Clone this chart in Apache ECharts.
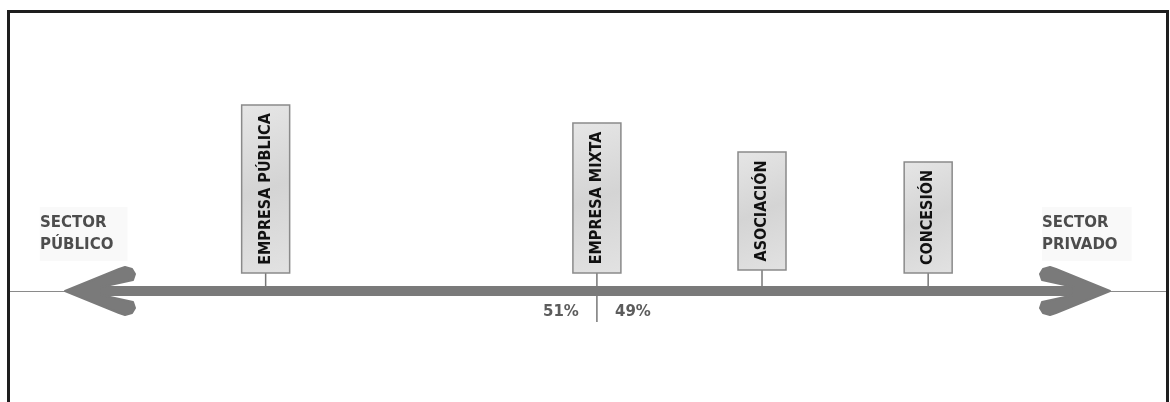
<!DOCTYPE html>
<html>
<head>
<meta charset="utf-8">
<script src="https://cdn.jsdelivr.net/npm/echarts@6/dist/echarts.min.js"></script>
<style>
  html, body { margin: 0; padding: 0; background: #fff; }
  #wrap { position: relative; width: 1170px; height: 402px; overflow: hidden; }
  #chart { width: 1170px; height: 402px; }
  #frame {
    position: absolute; left: 7px; top: 10px; width: 1156px; height: 400px;
    border: 3px solid #1e1e1e; border-bottom: none; pointer-events: none;
  }
</style>
</head>
<body>
<div id="wrap">
  <div id="chart"></div>
  <div id="frame"></div>
</div>
<script>
// spectrum: 0 = sector público, 100 = sector privado
const forms = ['EMPRESA PÚBLICA', 'EMPRESA MIXTA', 'ASOCIACIÓN', 'CONCESIÓN'];
const position = [19.2, 50.9, 66.7, 82.6];
const boxTop = [186, 168, 139, 129];
const boxBottom = [18, 18, 21, 18];
const ends = ['SECTOR\nPÚBLICO', 'SECTOR\nPRIVADO'];
const split = ['51%', '49%'];
const splitIndex = 1;   // EMPRESA MIXTA carries the 51/49 split
const splitDepth = -31;

const chart = echarts.init(document.getElementById('chart'));

const gray = '#7a7a7a';
const boxFont = '"Liberation Sans Narrow", "DejaVu Sans Condensed", "Arial Narrow", sans-serif';
const sideFont = '"DejaVu Sans", Verdana, sans-serif';

// arrow head outline, relative to the tip (dx points into the shaft)
const head = [[0, 0], [54, -22], [60, -24], [67, -22], [70, -17], [68, -11], [36, -4],
              [36, 4], [68, 11], [70, 17], [67, 22], [60, 24], [54, 22]];

function renderArrow(params, api) {
  const a = api.coord([api.value(0), 0]);
  const b = api.coord([api.value(1), 0]);
  const headPoly = (tip, dir) => ({
    type: 'polygon',
    shape: { points: head.map(p => [tip[0] + dir * p[0], tip[1] + p[1]]) },
    style: { fill: gray, stroke: gray, lineWidth: 2, lineJoin: 'round' }
  });
  return {
    type: 'group',
    children: [
      { type: 'line', shape: { x1: a[0] + 30, y1: a[1], x2: b[0] - 30, y2: b[1] },
        style: { stroke: gray, lineWidth: 10 } },
      headPoly(a, 1),
      headPoly(b, -1)
    ]
  };
}

function renderBox(params, api) {
  const x = api.value(0);
  const top = api.coord([x, api.value(1)]);
  const bot = api.coord([x, api.value(2)]);
  const base = api.coord([x, params.dataIndex === splitIndex ? splitDepth : 0]);
  const w = 48;
  return {
    type: 'group',
    children: [
      { type: 'line', shape: { x1: bot[0], y1: bot[1], x2: base[0], y2: base[1] },
        style: { stroke: '#777', lineWidth: 1.5 } },
      { type: 'rect', shape: { x: top[0] - w / 2, y: top[1], width: w, height: bot[1] - top[1] },
        style: {
          fill: new echarts.graphic.LinearGradient(0, 0, 1, 1, [
            { offset: 0, color: '#e6e6e6' }, { offset: 0.5, color: '#d4d4d4' }, { offset: 1, color: '#e2e2e2' }
          ]),
          stroke: '#8a8a8a', lineWidth: 1.5
        } },
      { type: 'text', x: top[0], y: (top[1] + bot[1]) / 2, rotation: Math.PI / 2,
        style: { text: forms[params.dataIndex], fill: '#111', fontSize: 16, fontWeight: 'bold',
                 fontFamily: boxFont, align: 'center', verticalAlign: 'middle' } }
    ]
  };
}

const option = {
  animation: false,
  grid: { left: 9, right: 4, top: 0, bottom: 0 },
  xAxis: {
    type: 'value', min: -5.36, max: 105.36,
    axisLine: { show: true, onZero: true, lineStyle: { color: '#8a8a8a', width: 1 } },
    axisTick: { show: false }, axisLabel: { show: false }, splitLine: { show: false }
  },
  yAxis: {
    type: 'value', min: -111, max: 291, show: false, splitLine: { show: false }
  },
  series: [
    {
      type: 'custom', name: 'boxes', renderItem: renderBox,
      data: forms.map((f, i) => [position[i], boxTop[i], boxBottom[i]])
    },
    {
      type: 'custom', name: 'arrow', renderItem: renderArrow, data: [[0, 100]], z: 3
    },
    {
      type: 'scatter', name: 'ends', symbolSize: 0, silent: true,
      data: [[-2.4, 57], [93.5, 57]],
      label: {
        show: true, position: 'right', distance: 0,
        formatter: p => ends[p.dataIndex],
        color: '#222', fontSize: 15, fontWeight: 'bold', fontFamily: sideFont,
        lineHeight: 22, backgroundColor: '#f8f8f8', padding: [6, 14, 4, 0]
      }
    },
    {
      type: 'scatter', name: 'split', symbolSize: 0, silent: true,
      data: [[position[splitIndex], -21], [position[splitIndex], -21]],
      label: {
        show: true,
        formatter: p => split[p.dataIndex],
        position: 'inside',
        color: '#333', fontSize: 15, fontWeight: 'bold', fontFamily: sideFont
      },
      labelLayout: p => ({ dx: p.dataIndex === 0 ? -36 : 36 })
    }
  ]
};

chart.setOption(option);
</script>
</body>
</html>
